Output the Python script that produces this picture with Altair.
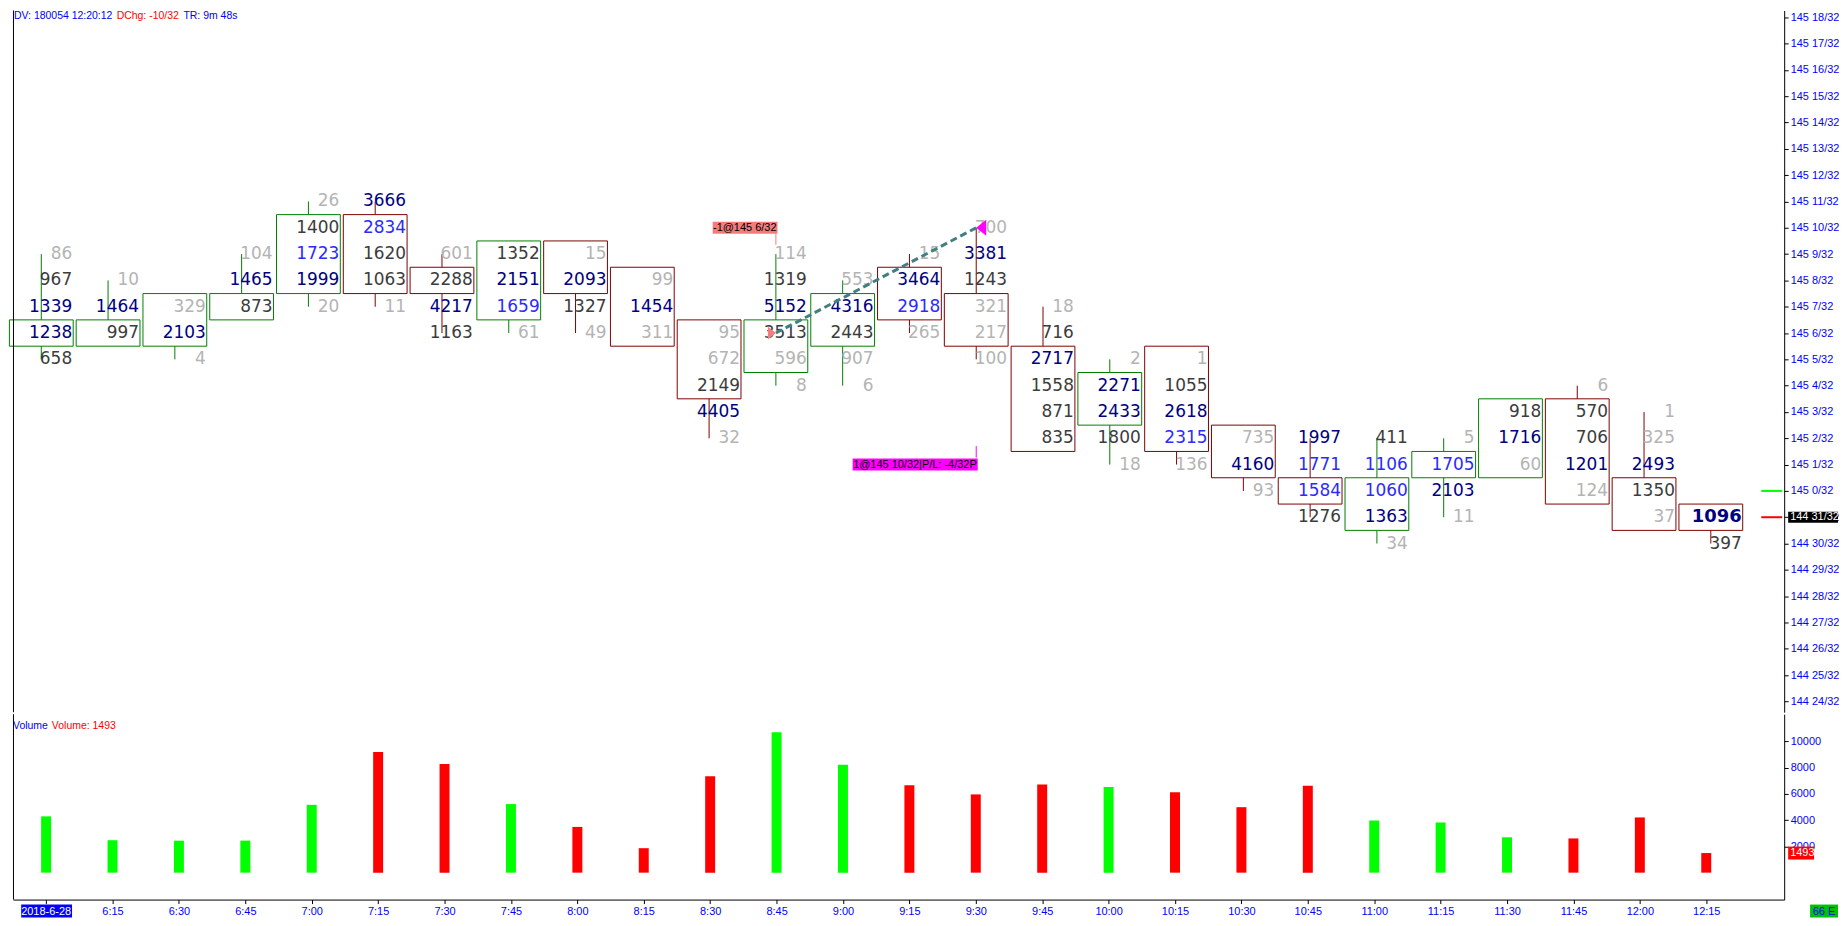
import json
import altair as alt
import pandas as pd

# ---------------- data ----------------
times = ["2018-6-28", "6:15", "6:30", "6:45", "7:00", "7:15", "7:30", "7:45", "8:00",
         "8:15", "8:30", "8:45", "9:00", "9:15", "9:30", "9:45", "10:00", "10:15",
         "10:30", "10:45", "11:00", "11:15", "11:30", "11:45", "12:00", "12:15"]

# price levels in 32nds above 145 0/32 (negative = 144 xx/32)
bar_high = [9, 8, 7, 9, 11, 11, 9, 9, 9, 8, 6, 9, 8, 9, 10, 7, 5, 5, 2, 2, 2, 2, 3, 4, 3, -1]
bar_low = [5, 6, 5, 7, 7, 7, 6, 6, 6, 6, 2, 4, 4, 6, 5, 2, 1, 1, 0, -1, -2, -1, 1, 0, -1, -2]
body_top = [6, 6, 7, 7, 10, 10, 8, 9, 9, 8, 6, 6, 7, 8, 7, 5, 4, 5, 2, 0, 0, 1, 3, 3, 0, -1]
body_bottom = [6, 6, 6, 7, 8, 8, 8, 7, 8, 6, 4, 5, 6, 7, 6, 2, 3, 2, 1, 0, -1, 1, 1, 0, -1, -1]
bar_dir = ["up", "up", "up", "up", "up", "down", "down", "up", "down", "down", "down", "up", "up",
           "down", "down", "down", "up", "down", "down", "down", "up", "up", "up", "down", "down", "down"]

# volume at price, from the bar high downwards
footprint = [
    [86, 967, 1339, 1238, 658],
    [10, 1464, 997],
    [329, 2103, 4],
    [104, 1465, 873],
    [26, 1400, 1723, 1999, 20],
    [3666, 2834, 1620, 1063, 11],
    [601, 2288, 4217, 1163],
    [1352, 2151, 1659, 61],
    [15, 2093, 1327, 49],
    [99, 1454, 311],
    [95, 672, 2149, 4405, 32],
    [114, 1319, 5152, 3513, 596, 8],
    [553, 4316, 2443, 907, 6],
    [15, 3464, 2918, 265],
    [700, 3381, 1243, 321, 217, 100],
    [18, 716, 2717, 1558, 871, 835],
    [2, 2271, 2433, 1800, 18],
    [1, 1055, 2618, 2315, 136],
    [735, 4160, 93],
    [1997, 1771, 1584, 1276],
    [411, 1106, 1060, 1363, 34],
    [5, 1705, 2103, 11],
    [918, 1716, 60],
    [6, 570, 706, 1201, 124],
    [1, 325, 2493, 1350, 37],
    [1096, 397],
]
# shade code per cell: g light gray, d dark gray, n navy, b blue, N bold navy
shades = ["gdnnd", "gnd", "gng", "gnd", "gdbng", "nbddg", "gdnd", "dnbg", "gndg", "gng",
          "ggdng", "gdndgg", "gndgg", "gnbg", "gndggg", "gdnddd", "gnndg", "gdnbg", "gng",
          "nbbd", "dbbng", "gbng", "dng", "gddng", "ggndg", "Nd"]

volume = [4288, 2471, 2436, 2442, 5168, 9194, 8269, 5223, 3484, 1864, 7353, 10702, 8225,
          6662, 5962, 6715, 6524, 6125, 4988, 6628, 3974, 3824, 2694, 2607, 4206, 1493]

trade_bar = [11, 14]
trade_price = [6, 10]
trade_text = ["-1@145 6/32", "1@145 10/32|P/L: -4/32P"]
trade_tag_price = [10, 1]

settle_price = 0
last_price = -1
last_volume = 1493
header_parts = ["DV: 180054 12:20:12", "DChg: -10/32", "TR: 9m 48s"]

# ---------------- styles / layout ----------------
UP, DOWN = "#008000", "#800000"
VOL_UP, VOL_DOWN = "#00ff00", "#ff0000"
SHADE = {"g": "#b4b4b4", "d": "#3c3c3c", "n": "#000080", "b": "#2b2bff", "N": "#000080"}
BLUE = "#0000ff"
SALMON = "#f47c7c"
MAGENTA = "#ff00ff"
SMALL = "Liberation Sans"
BIG = "DejaVu Sans"

W = 1777
HP = 704
HV = 186

x_scale = alt.Scale(domain=[-0.4239, 26.0985], nice=False, zero=False)
y_scale = alt.Scale(domain=[-8.409, 18.258], nice=False, zero=False)
v_scale = alt.Scale(domain=[-2050, 12073], nice=False, zero=False)

price_axis = alt.Axis(
    orient="right", values=list(range(-8, 19)),
    labelExpr="datum.value >= 0 ? '145 ' + datum.value + '/32' : '144 ' + (32 + datum.value) + '/32'",
    title=None, grid=False, tickSize=4, labelPadding=2, labelFont=SMALL, labelFontSize=11,
    labelColor=BLUE, domainColor="black", tickColor="black", labelOverlap=False,
    labelFlush=False, zindex=0)
vol_axis = alt.Axis(
    orient="right", values=[2000, 4000, 6000, 8000, 10000], format="d", title=None, grid=False,
    tickSize=4, labelPadding=2, labelFont=SMALL, labelFontSize=11, labelColor=BLUE,
    domainColor="black", tickColor="black", labelOverlap=False, labelFlush=False, zindex=0)
time_axis = alt.Axis(
    orient="bottom", values=list(range(len(times))),
    labelExpr=json.dumps(times) + "[datum.value]",
    title=None, grid=False, tickSize=4, labelPadding=2, labelFont=SMALL, labelFontSize=11,
    labelColor=BLUE, domainColor="black", tickColor="black", labelOverlap=False,
    labelFlush=False, zindex=0)

# ---------------- tables ----------------
n_bars = len(times)
bars = pd.DataFrame({
    "i": list(range(n_bars)),
    "btop": [t + 0.5 for t in body_top],
    "bbot": [b - 0.5 for b in body_bottom],
    "color": [UP if d == "up" else DOWN for d in bar_dir],
    "vcolor": [VOL_UP if d == "up" else VOL_DOWN for d in bar_dir],
    "vol": volume,
})

wick_rows = []
for i in range(n_bars):
    c = UP if bar_dir[i] == "up" else DOWN
    if bar_high[i] > body_top[i]:
        wick_rows.append({"i": i, "y": bar_high[i], "y2": body_top[i] + 0.5, "color": c})
    if bar_low[i] < body_bottom[i]:
        wick_rows.append({"i": i, "y": body_bottom[i] - 0.5, "y2": bar_low[i], "color": c})
wicks = pd.DataFrame(wick_rows)

cell_rows = []
for i, (vals, sh) in enumerate(zip(footprint, shades)):
    for k, (v, s) in enumerate(zip(vals, sh)):
        cell_rows.append({"i": i, "n": bar_high[i] - k, "label": str(v),
                          "color": SHADE[s], "bold": s == "N"})
cells = pd.DataFrame(cell_rows)

trades = pd.DataFrame({"i": trade_bar, "n": trade_price, "tag_n": trade_tag_price,
                       "text": trade_text})


def X():
    return alt.X("i:Q", scale=x_scale, axis=None)


def Y(f):
    return alt.Y(f"{f}:Q", scale=y_scale, axis=price_axis)


# ---------------- price panel ----------------
wick_layer = alt.Chart(wicks).mark_rule(strokeWidth=1).encode(
    x=X(), y=Y("y"), y2="y2:Q", color=alt.Color("color:N", scale=None))

box_layer = alt.Chart(bars).mark_rect(fillOpacity=0, strokeWidth=1, xOffset=-32, x2Offset=32).encode(
    x=X(), x2="i:Q", y=Y("btop"), y2="bbot:Q", stroke=alt.Stroke("color:N", scale=None))

text_layer = alt.Chart(cells).transform_filter("!datum.bold").mark_text(
    align="right", baseline="middle", dx=31, font=BIG, fontSize=17).encode(
    x=X(), y=Y("n"), text="label:N", color=alt.Color("color:N", scale=None))

bold_layer = alt.Chart(cells).transform_filter("datum.bold").mark_text(
    align="right", baseline="middle", dx=31, font=BIG, fontSize=18, fontWeight="bold").encode(
    x=X(), y=Y("n"), text="label:N", color=alt.Color("color:N", scale=None))


def trade_layers(idx, color, left, right, c_off1, c_off2, shape, size):
    d = trades.iloc[[idx]]
    tag = alt.Chart(d).mark_rect(color=color, xOffset=left, x2Offset=right,
                                 yOffset=-6, y2Offset=6).encode(
        x=X(), x2="i:Q", y=Y("tag_n"), y2="tag_n:Q")
    tag_text = alt.Chart(d).mark_text(align="right", baseline="middle", dx=right - 1,
                                      font=SMALL, fontSize=11, color="black").encode(
        x=X(), y=Y("tag_n"), text="text:N")
    conn = alt.Chart(d).mark_rule(color=color, strokeWidth=1, yOffset=c_off1, y2Offset=c_off2).encode(
        x=X(), y=Y("tag_n"), y2="tag_n:Q")
    tri = alt.Chart(d).mark_point(shape=shape, size=size, filled=True, opacity=1,
                                  color=color, strokeWidth=0).encode(x=X(), y=Y("n"))
    return [tag, tag_text, conn, tri]


dash_layer = alt.Chart(trades).mark_line(color="#408080", strokeWidth=3, strokeDash=[7, 4]).encode(
    x=X(), y=Y("n"))

sell_layers = trade_layers(0, SALMON, -63.4, 1.6, 6, 17, "M0,0L-1,-0.8L-1,0.8Z", 256)
buy_layers = trade_layers(1, MAGENTA, -124, 1.5, -18.6, -7, "M0,0L1,-0.8L1,0.8Z", 400)

marker_df = pd.DataFrame({"n": [settle_price, last_price], "color": ["#00ff00", "#ff0000"]})
marker_layer = alt.Chart(marker_df).mark_rule(strokeWidth=2).encode(
    x=alt.value(W - 23), x2=alt.value(W - 2), y=Y("n"), color=alt.Color("color:N", scale=None))

last_df = pd.DataFrame({"n": [last_price],
                        "label": [f"{145 if last_price >= 0 else 144} {last_price % 32}/32"]})
last_box = alt.Chart(last_df).mark_rect(color="black", yOffset=-5.5, y2Offset=5.5).encode(
    x=alt.value(W + 4), x2=alt.value(W + 54), y=Y("n"), y2="n:Q")
last_text = alt.Chart(last_df).mark_text(align="left", baseline="middle", font=SMALL,
                                         fontSize=11, color="white").encode(
    x=alt.value(W + 6), y=Y("n"), text="label:N")

header_df = pd.DataFrame({"t": header_parts})
header_layers = []
for k, (xpos, col) in enumerate([(1, BLUE), (104, "#ff0000"), (171, BLUE)]):
    header_layers.append(
        alt.Chart(header_df.iloc[[k]]).mark_text(align="left", baseline="middle", font=SMALL,
                                                 fontSize=10.5, color=col).encode(
            x=alt.value(xpos), y=alt.value(6), text="t:N"))

left_line = alt.Chart(header_df.iloc[[0]]).mark_rule(color="black", strokeWidth=1).encode(
    x=alt.value(0.5), y=alt.value(0), y2=alt.value(HP))

price = alt.layer(
    wick_layer, box_layer, text_layer, bold_layer, dash_layer,
    *sell_layers, *buy_layers, marker_layer, last_box, last_text, *header_layers, left_line,
).properties(width=W, height=HP)

# ---------------- volume panel ----------------
XV = alt.X("i:Q", scale=x_scale, axis=time_axis)

vol_bars = alt.Chart(bars).mark_bar(width=10).encode(
    x=XV, y=alt.Y("vol:Q", scale=v_scale, axis=vol_axis), y2=alt.datum(0),
    color=alt.Color("vcolor:N", scale=None))

lv_df = pd.DataFrame({"v": [last_volume], "label": [str(last_volume)],
                      "title": ["Volume"], "title2": [f"Volume: {last_volume}"]})
lv_box = alt.Chart(lv_df).mark_rect(color="#ff0000", yOffset=-6.5, y2Offset=6.5).encode(
    x=alt.value(W + 4), x2=alt.value(W + 30), y=alt.Y("v:Q", scale=v_scale, axis=vol_axis), y2="v:Q")
lv_text = alt.Chart(lv_df).mark_text(align="left", baseline="middle", font=SMALL, fontSize=11,
                                     color="white").encode(
    x=alt.value(W + 6), y=alt.Y("v:Q", scale=v_scale, axis=vol_axis), text="label:N")
vol_title = alt.Chart(lv_df).mark_text(align="left", baseline="middle", font=SMALL, fontSize=10.5,
                                       color=BLUE).encode(
    x=alt.value(0), y=alt.value(12), text="title:N")
vol_title2 = alt.Chart(lv_df).mark_text(align="left", baseline="middle", font=SMALL, fontSize=10.5,
                                        color="#ff0000").encode(
    x=alt.value(39), y=alt.value(12), text="title2:N")

date_df = pd.DataFrame({"i": [0], "label": [times[0]], "e": ["66 E"]})
date_box = alt.Chart(date_df).mark_rect(color="#0000ff", xOffset=-25, x2Offset=26).encode(
    x=XV, x2="i:Q", y=alt.value(HV + 5), y2=alt.value(HV + 18))
date_text = alt.Chart(date_df).mark_text(align="center", baseline="top", font=SMALL, fontSize=11,
                                         color="white").encode(
    x=XV, y=alt.value(HV + 6), text="label:N")
e_box = alt.Chart(date_df).mark_rect(color="#00c000").encode(
    x=alt.value(W + 26), x2=alt.value(W + 54), y=alt.value(HV + 5), y2=alt.value(HV + 18))
e_text = alt.Chart(date_df).mark_text(align="center", baseline="top", font=SMALL, fontSize=11,
                                      color=BLUE).encode(
    x=alt.value(W + 40), y=alt.value(HV + 6), text="e:N")
vleft_line = alt.Chart(date_df).mark_rule(color="black", strokeWidth=1).encode(
    x=alt.value(0.5), y=alt.value(0), y2=alt.value(HV))

vol = alt.layer(
    vol_bars, lv_box, lv_text, vol_title, vol_title2, date_box, date_text, e_box, e_text, vleft_line
).properties(width=W, height=HV)

chart = alt.vconcat(price, vol, spacing=0).properties(padding=0).configure(
    background="white").configure_view(stroke=None)

chart.save("out.html", embed_options={"renderer": "svg", "actions": False})
